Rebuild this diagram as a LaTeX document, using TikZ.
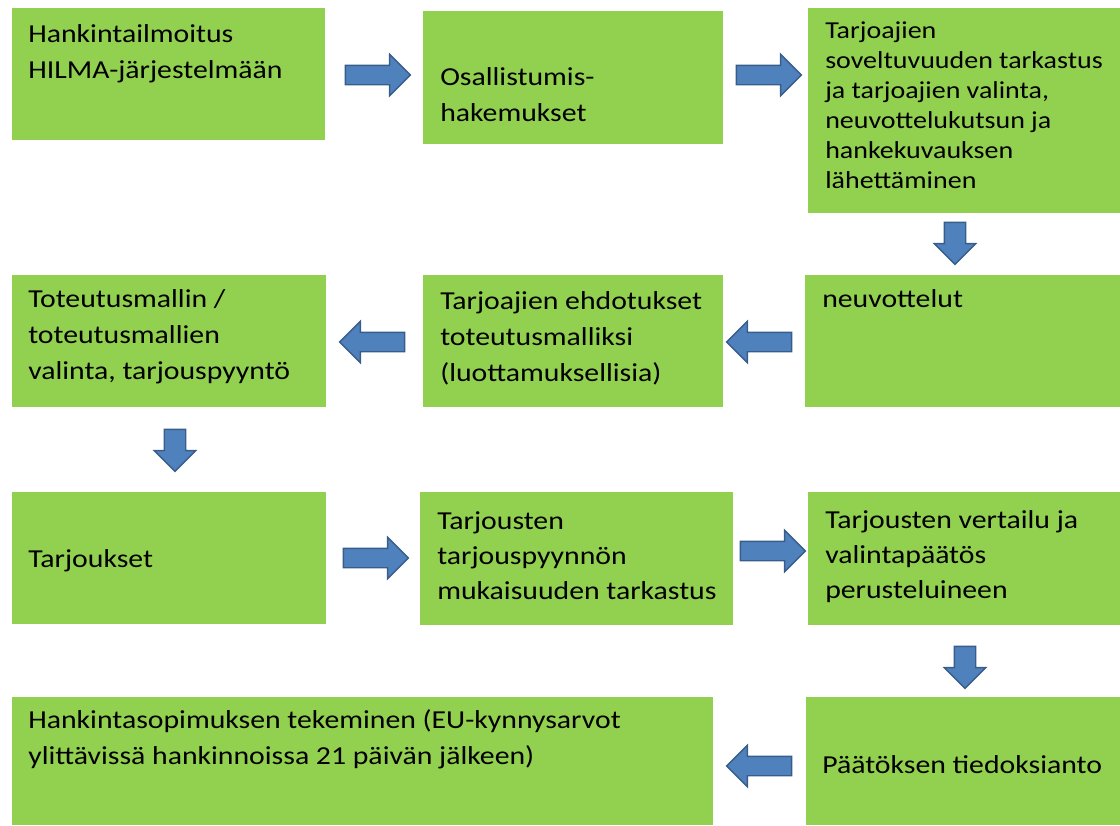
\documentclass[tikz,border=0pt]{standalone}
\usepackage{fontspec}
\setmainfont{Carlito}[FakeStretch=1.15]
\usepackage{tikz}
\usetikzlibrary{shapes.arrows}
\definecolor{boxgreen}{HTML}{92D050}
\definecolor{arrowblue}{HTML}{4F81BD}
\definecolor{arrowline}{HTML}{385D8A}

\begin{document}
\begin{tikzpicture}[x=0.025cm, y=-0.025cm,
		box/.style 2 args = {fill=boxgreen, inner sep=0pt, anchor=north west,
			minimum width=#1*0.025cm, minimum height=#2*0.025cm},
		txt/.style = {anchor=base west, align=left, inner sep=0pt,
			font=\fontsize{18.4}{25.5}\selectfont},
		tight/.style = {font=\fontsize{17.3}{21.3}\selectfont},
		mid/.style = {font=\fontsize{18.4}{24.8}\selectfont},
		harrow/.style = {single arrow, fill=arrowblue, draw=arrowline, line width=1pt,
			inner sep=0pt, inner ysep=0.225cm, single arrow head extend=0.275cm,
			minimum height=1.625cm},
		varrow/.style = {single arrow, fill=arrowblue, draw=arrowline, line width=1pt,
			inner sep=0pt, inner ysep=0.25cm, single arrow head extend=0.25cm,
			minimum height=1.05cm, rotate=-90}]
		\useasboundingbox (0,0) rectangle (1120,825);
		\node[box={313}{132}] (b1) at (12,8) {};
		\node[box={300}{133}] (b2) at (423,11) {};
		\node[box={312}{205}] (b3) at (808,8) {};
		\node[box={314}{132}] (b4) at (12,275) {};
		\node[box={300}{132}] (b5) at (423,275) {};
		\node[box={315}{132}] (b6) at (805,275) {};
		\node[box={314}{132}] (b7) at (12,492) {};
		\node[box={313}{133}] (b8) at (420,492) {};
		\node[box={312}{133}] (b9) at (808,492) {};
		\node[box={701}{128}] (b10) at (12,697) {};
		\node[box={314}{128}] (b11) at (806,697) {};
		\node[txt] (t1) at (28,78) {Hankintailmoitus\\HILMA-järjestelmään};
		\node[txt] (t2) at (440,121) {Osallistumis-\\hakemukset};
		\node[txt, tight] (t3) at (825,188) {Tarjoajien\\soveltuvuuden tarkastus\\ja tarjoajien valinta,\\neuvottelukutsun ja\\hankekuvauksen\\lähettäminen};
		\node[txt] (t4) at (28,379) {Toteutusmallin /\\toteutusmallien\\valinta, tarjouspyyntö};
		\node[txt] (t5) at (440,381) {Tarjoajien ehdotukset\\toteutusmalliksi\\(luottamuksellisia)};
		\node[txt] (t6) at (822,307) {neuvottelut};
		\node[txt] (t7) at (28,567) {Tarjoukset};
		\node[txt, mid] (t8) at (437,599) {Tarjousten\\tarjouspyynnön\\mukaisuuden tarkastus};
		\node[txt, mid] (t9) at (825,598) {Tarjousten vertailu ja\\valintapäätös\\perusteluineen};
		\node[txt] (t10) at (28,764) {Hankintasopimuksen tekeminen (EU-kynnysarvot\\ylittävissä hankinnoissa 21 päivän jälkeen)};
		\node[txt] (t11) at (822,773) {Päätöksen tiedoksianto};
		\node[harrow] (a1) at (373,75) {};
		\node[harrow] (a2) at (764,75) {};
		\node[varrow] (a3) at (955,238) {};
		\node[harrow, rotate=180] (a4) at (377,342) {};
		\node[harrow, rotate=180] (a5) at (764,342) {};
		\node[varrow] (a6) at (175,445) {};
		\node[harrow] (a7) at (371,558) {};
		\node[harrow] (a8) at (768,551) {};
		\node[varrow] (a9) at (965,662) {};
		\node[harrow, rotate=180] (a10) at (764,766) {};
\end{tikzpicture}
\end{document}
